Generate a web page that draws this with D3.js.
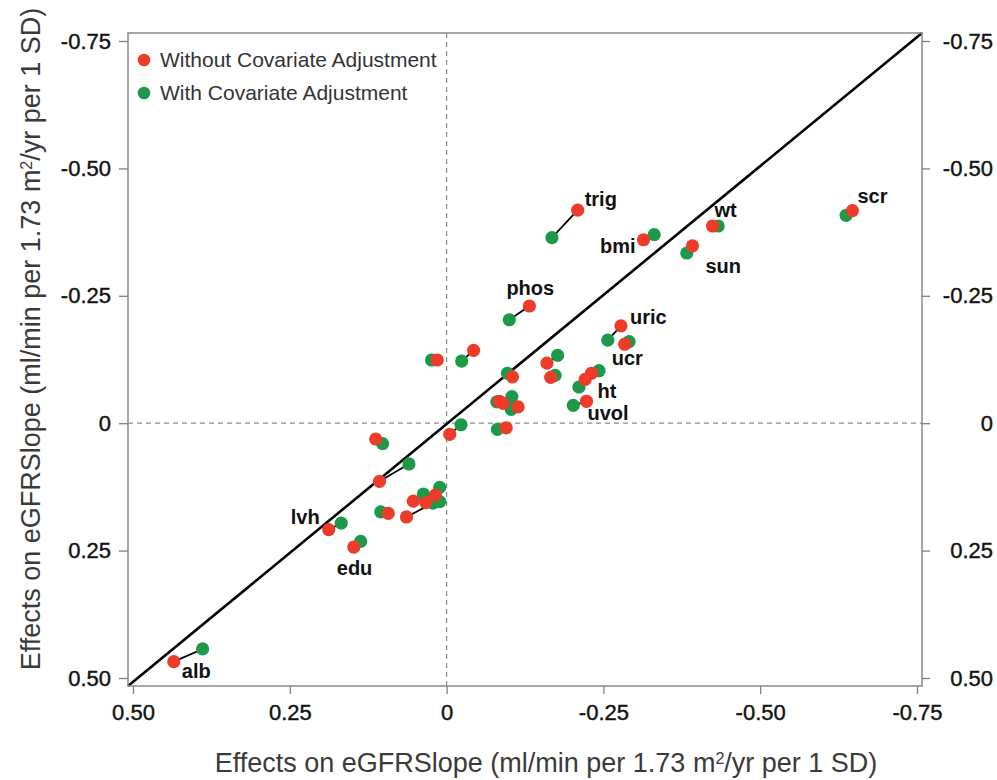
<!DOCTYPE html>
<html>
<head>
<meta charset="utf-8">
<script src="https://cdn.jsdelivr.net/npm/d3@7"></script>
<style>
    body { margin: 0; background: #fff; }
    svg { display: block; font-family: "Liberation Sans", Arial, Helvetica, sans-serif; }
    .tick text { font-size: 22px; fill: #111; stroke: #111; stroke-width: 0.4px; }
    .tick line { stroke: #808080; stroke-width: 1.3px; }
    .ptLabel { font-size: 20px; font-weight: bold; fill: #111; }
    .legendText { font-size: 21px; fill: #333; }
    .axisTitle { font-size: 27px; fill: #3a3a3a; }
</style>
</head>
<body>
<div id="chart"></div>
<script>
// variable names; "" = no label
var names = ["scr", "wt", "trig", "bmi", "sun", "phos", "uric", "ucr", "", "", "", "", "",
    "ht", "", "uvol", "", "", "", "", "", "", "", "", "", "", "", "", "lvh", "edu", "alb"];

// effects without covariate adjustment (x, y)
var rawX = [-0.647, -0.424, -0.209, -0.314, -0.392, -0.132, -0.278, -0.284, 0.015, -0.043, -0.105, -0.160, -0.166,
    -0.231, -0.221, -0.223, -0.084, -0.090, -0.114, -0.005, -0.095, 0.113, 0.107, 0.053, 0.033, 0.018, 0.064, 0.093,
    0.188, 0.148, 0.435];
var rawY = [-0.417, -0.387, -0.418, -0.360, -0.348, -0.230, -0.191, -0.155, -0.124, -0.143, -0.091, -0.118, -0.090,
    -0.098, -0.086, -0.043, -0.043, -0.039, -0.032, 0.022, 0.009, 0.031, 0.114, 0.153, 0.156, 0.141, 0.184, 0.177,
    0.209, 0.243, 0.468];

// effects with covariate adjustment (x, y)
var adjX = [-0.637, -0.433, -0.168, -0.331, -0.383, -0.100, -0.257, -0.291, 0.024, -0.024, -0.097, -0.177, -0.173,
    -0.243, -0.211, -0.202, -0.080, -0.103, -0.104, -0.023, -0.081, 0.102, 0.060, 0.037, 0.011, 0.011, 0.022, 0.105,
    0.168, 0.137, 0.389];
var adjY = [-0.408, -0.387, -0.364, -0.370, -0.334, -0.203, -0.163, -0.160, -0.124, -0.122, -0.098, -0.133, -0.094,
    -0.103, -0.071, -0.035, -0.042, -0.027, -0.052, 0.003, 0.012, 0.040, 0.080, 0.139, 0.126, 0.154, 0.157, 0.174,
    0.196, 0.232, 0.443];

var tickValues = [0.5, 0.25, 0, -0.25, -0.5, -0.75];
var tickLabels = ["0.50", "0.25", "0", "-0.25", "-0.50", "-0.75"];

var seriesNames = ["Without Covariate Adjustment", "With Covariate Adjustment"];
var seriesColors = ["#ee3a2c", "#1d9a4a"];

// label placement relative to the unadjusted point (px)
var labelOffset = {
    scr: [5, -8, "start"], wt: [2, -9, "start"], trig: [7, -4, "start"], bmi: [-8, 13, "end"],
    sun: [13, 27, "start"], phos: [-23, -11, "start"], uric: [9, -2, "start"], ucr: [-13, 21, "start"],
    ht: [6, 25, "start"], uvol: [1, 19, "start"], lvh: [-9, -6, "end"], edu: [-17, 28, "start"],
    alb: [8, 16, "start"]
};

var width = 997, height = 780;
var frame = { left: 128, right: 922, top: 33, bottom: 686 };

var svg = d3.select("#chart").append("svg")
    .attr("width", width)
    .attr("height", height);

var defs = svg.append("defs");
defs.append("filter").attr("id", "soft")
    .append("feGaussianBlur").attr("stdDeviation", 0.6);
defs.append("clipPath").attr("id", "plotClip")
    .append("rect")
    .attr("x", frame.left).attr("y", frame.top)
    .attr("width", frame.right - frame.left).attr("height", frame.bottom - frame.top);

var xScale = d3.scaleLinear().domain([0.5, -0.75]).range([133, 917]);
var yScale = d3.scaleLinear().domain([-0.75, 0.5]).range([41, 678]);

var data = names.map(function (n, i) {
    return { name: n, rx: rawX[i], ry: rawY[i], ax: adjX[i], ay: adjY[i] };
});

// reference lines at zero
var zeroG = svg.append("g").attr("stroke", "#8c8c8c").attr("stroke-width", 1.2)
    .attr("stroke-dasharray", "5,4");
zeroG.append("line")
    .attr("x1", xScale(0)).attr("x2", xScale(0))
    .attr("y1", frame.top).attr("y2", frame.bottom);
zeroG.append("line")
    .attr("x1", frame.left).attr("x2", frame.right)
    .attr("y1", yScale(0)).attr("y2", yScale(0));

// line of equality, corner to corner of the plot frame
svg.append("line")
    .attr("x1", xScale(xScale.invert(frame.left))).attr("y1", frame.bottom)
    .attr("x2", xScale(xScale.invert(frame.right))).attr("y2", frame.top)
    .attr("stroke", "#000").attr("stroke-width", 2.6);

// connecting segments
svg.append("g").attr("clip-path", "url(#plotClip)")
    .selectAll("line").data(data).enter().append("line")
    .attr("x1", function (d) { return xScale(d.rx); })
    .attr("y1", function (d) { return yScale(d.ry); })
    .attr("x2", function (d) { return xScale(d.ax); })
    .attr("y2", function (d) { return yScale(d.ay); })
    .attr("stroke", "#000").attr("stroke-width", 1.8);

var dots = svg.append("g").attr("filter", "url(#soft)");
dots.selectAll("circle.adj").data(data).enter().append("circle")
    .attr("class", "adj")
    .attr("cx", function (d) { return xScale(d.ax); })
    .attr("cy", function (d) { return yScale(d.ay); })
    .attr("r", 6.6)
    .attr("fill", seriesColors[1]);
dots.selectAll("circle.raw").data(data).enter().append("circle")
    .attr("class", "raw")
    .attr("cx", function (d) { return xScale(d.rx); })
    .attr("cy", function (d) { return yScale(d.ry); })
    .attr("r", 6.6)
    .attr("fill", seriesColors[0]);

svg.append("g").selectAll("text")
    .data(data.filter(function (d) { return d.name !== ""; }))
    .enter().append("text")
    .attr("class", "ptLabel")
    .attr("x", function (d) { return xScale(d.rx) + labelOffset[d.name][0]; })
    .attr("y", function (d) { return yScale(d.ry) + labelOffset[d.name][1]; })
    .attr("text-anchor", function (d) { return labelOffset[d.name][2]; })
    .text(function (d) { return d.name; });

// frame
svg.append("rect")
    .attr("x", frame.left).attr("y", frame.top)
    .attr("width", frame.right - frame.left).attr("height", frame.bottom - frame.top)
    .attr("fill", "none").attr("stroke", "#8a8a8a").attr("stroke-width", 1.5);

function fmt(v) { return tickLabels[tickValues.indexOf(v)]; }

svg.append("g")
    .attr("transform", "translate(0," + frame.bottom + ")")
    .call(d3.axisBottom(xScale).tickValues(tickValues).tickFormat(fmt).tickSize(8).tickPadding(10))
    .call(function (g) { g.select(".domain").remove(); });

svg.append("g")
    .attr("transform", "translate(" + frame.left + ",0)")
    .call(d3.axisLeft(yScale).tickValues(tickValues).tickFormat(fmt).tickSize(9).tickPadding(8))
    .call(function (g) { g.select(".domain").remove(); });

svg.append("g")
    .attr("transform", "translate(" + frame.right + ",0)")
    .call(d3.axisRight(yScale).tickValues(tickValues).tickFormat(fmt).tickSize(8))
    .call(function (g) { g.select(".domain").remove(); })
    .call(function (g) { g.selectAll("text").attr("x", 71).attr("text-anchor", "end"); });

svg.selectAll(".tick text").attr("font-family", null).attr("font-size", null);

// legend
var legend = svg.append("g");
seriesNames.forEach(function (s, i) {
    legend.append("circle")
        .attr("cx", 144).attr("cy", 60 + i * 33).attr("r", 6.3)
        .attr("fill", seriesColors[i]).attr("filter", "url(#soft)");
    legend.append("text")
        .attr("class", "legendText")
        .attr("x", 160).attr("y", 60 + i * 33).attr("dy", "0.35em")
        .text(s);
});

// axis titles
function titleText(sel) {
    sel.append("tspan").text("Effects on eGFRSlope (ml/min per 1.73 m");
    sel.append("tspan").attr("baseline-shift", "super").attr("font-size", "16px").text("2");
    sel.append("tspan").text("/yr per 1 SD)");
}

svg.append("text")
    .attr("class", "axisTitle")
    .attr("x", 546).attr("y", 772)
    .attr("text-anchor", "middle")
    .call(titleText);

svg.append("text")
    .attr("class", "axisTitle")
    .attr("transform", "translate(40,339) rotate(-90)")
    .attr("text-anchor", "middle")
    .call(titleText);
</script>
</body>
</html>
